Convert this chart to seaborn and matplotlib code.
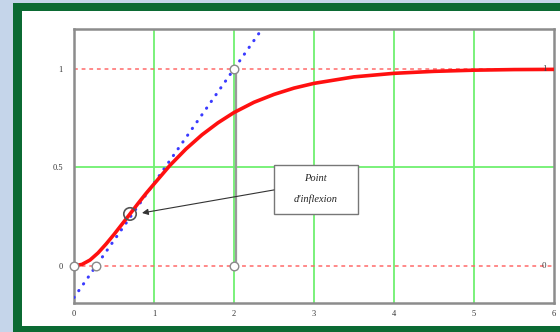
import matplotlib
matplotlib.use("Agg")
import matplotlib.pyplot as plt
from matplotlib.patches import Rectangle
import seaborn as sns

# Step response of the system (time, output)
t_vals = [0.0, 0.1, 0.2, 0.3, 0.4, 0.5, 0.6, 0.7, 0.8, 0.9, 1.0, 1.2, 1.4, 1.6,
          1.8, 2.0, 2.25, 2.5, 2.75, 3.0, 3.5, 4.0, 4.5, 5.0, 5.5, 6.0]
y_vals = [0.0, 0.008, 0.030, 0.066, 0.111, 0.160, 0.212, 0.264, 0.317, 0.368,
          0.416, 0.511, 0.594, 0.666, 0.727, 0.779, 0.831, 0.871, 0.903, 0.927,
          0.960, 0.978, 0.988, 0.994, 0.997, 0.998]

# Tangent at the inflection point
tan_x = [0.0, 2.35]
tan_y = [-0.16, 1.203]

# Inflection point and construction points
infl_x, infl_y = 0.70, 0.264
pts_x = [0.0, 0.275, 2.0, 2.0]
pts_y = [0.0, 0.0, 0.0, 1.0]

x_ticks = [0, 1, 2, 3, 4, 5, 6]
x_labels = ["0", "1", "2", "3", "4", "5", "6"]
y_ticks = [0, 0.5, 1]
y_labels = ["0", "0.5", "1"]
levels = [0, 1]
level_labels = ["0", "1"]
note_text = ["Point", "d'inflexion"]

sns.set_theme(style="white")
plt.rcParams["font.family"] = ["Liberation Serif", "DejaVu Serif"]

W, H = 560, 332
fig = plt.figure(figsize=(W / 100, H / 100), dpi=100)
fig.patch.set_facecolor("#c5d5ea")

# Dark green frame with white inner panel
fig.patches.append(Rectangle((13 / W, 0), 1, 1 - 3 / H, transform=fig.transFigure,
                             facecolor="#0b6a33", edgecolor="none", zorder=-2))
fig.patches.append(Rectangle((22 / W, 6 / H), 1, 1 - 17 / H, transform=fig.transFigure,
                             facecolor="white", edgecolor="none", zorder=-1))

ax = fig.add_axes([74 / W, 29 / H, 480 / W, 274 / H])
ax.set_zorder(5)
ax.set_facecolor("white")
ax.set_xlim(0, 6)
ax.set_ylim(-0.188, 1.203)

# Grid
for gx in x_ticks[1:-1]:
    ax.axvline(gx, color="#70f070", lw=1.3, zorder=1)
ax.axhline(0.5, color="#70f070", lw=1.3, zorder=1)

# Reference levels
for lv in levels:
    ax.axhline(lv, color="#ff6a6a", lw=1.1, ls=(0, (2.5, 2.5)), zorder=2)

# Vertical construction line at t = 2
ax.plot([2.03, 2.03], [0, 1], color="#9a9a9a", lw=1.6, zorder=3)

# Tangent line
sns.lineplot(x=tan_x, y=tan_y, ax=ax, color="#3a3aff", lw=2.2,
             linestyle=(0, (0.1, 2.6)), dash_capstyle="round", zorder=4)

# Response curve
sns.lineplot(x=t_vals, y=y_vals, ax=ax, color="#ff1010", lw=2.6, zorder=5)

# Markers
sns.scatterplot(x=pts_x, y=pts_y, ax=ax, s=38, color="white",
                edgecolor="#8a8a8a", linewidth=1.0, zorder=6, clip_on=False)
ax.scatter([infl_x], [infl_y], s=80, facecolor="none", edgecolor="#555555",
           linewidth=1.2, zorder=7)

# Level labels at the right end
for lv, lab in zip(levels, level_labels):
    ax.text(5.875, lv, lab, fontsize=6.5, color="#444444", ha="center", va="center",
            zorder=8)

# Annotation box
ax.add_patch(Rectangle((2.5, 0.264), 1.05, 0.249, facecolor="white",
                       edgecolor="#777777", lw=1.0, zorder=8))
ax.text(3.02, 0.442, note_text[0], fontsize=7.5, style="italic", ha="center",
        va="center", color="#222222", zorder=9)
ax.text(3.02, 0.340, note_text[1], fontsize=7.5, style="italic", ha="center",
        va="center", color="#222222", zorder=9)
ax.annotate("", xy=(0.85, 0.269), xytext=(2.5, 0.386),
            arrowprops=dict(arrowstyle="-|>", color="#333333", lw=0.8,
                            mutation_scale=9, shrinkA=0, shrinkB=0), zorder=9)

# Axes styling
ax.set_xticks(x_ticks)
ax.set_xticklabels(x_labels)
ax.set_yticks(y_ticks)
ax.set_yticklabels(y_labels)
ax.tick_params(axis="both", length=0, labelsize=6, colors="#333333")
ax.tick_params(axis="x", pad=5)
ax.tick_params(axis="y", pad=8)
for sp in ax.spines.values():
    sp.set_color("#8c8c8c")
    sp.set_linewidth(1.8)
ax.set_xlabel("")
ax.set_ylabel("")

fig.savefig("out.png", dpi=100)
